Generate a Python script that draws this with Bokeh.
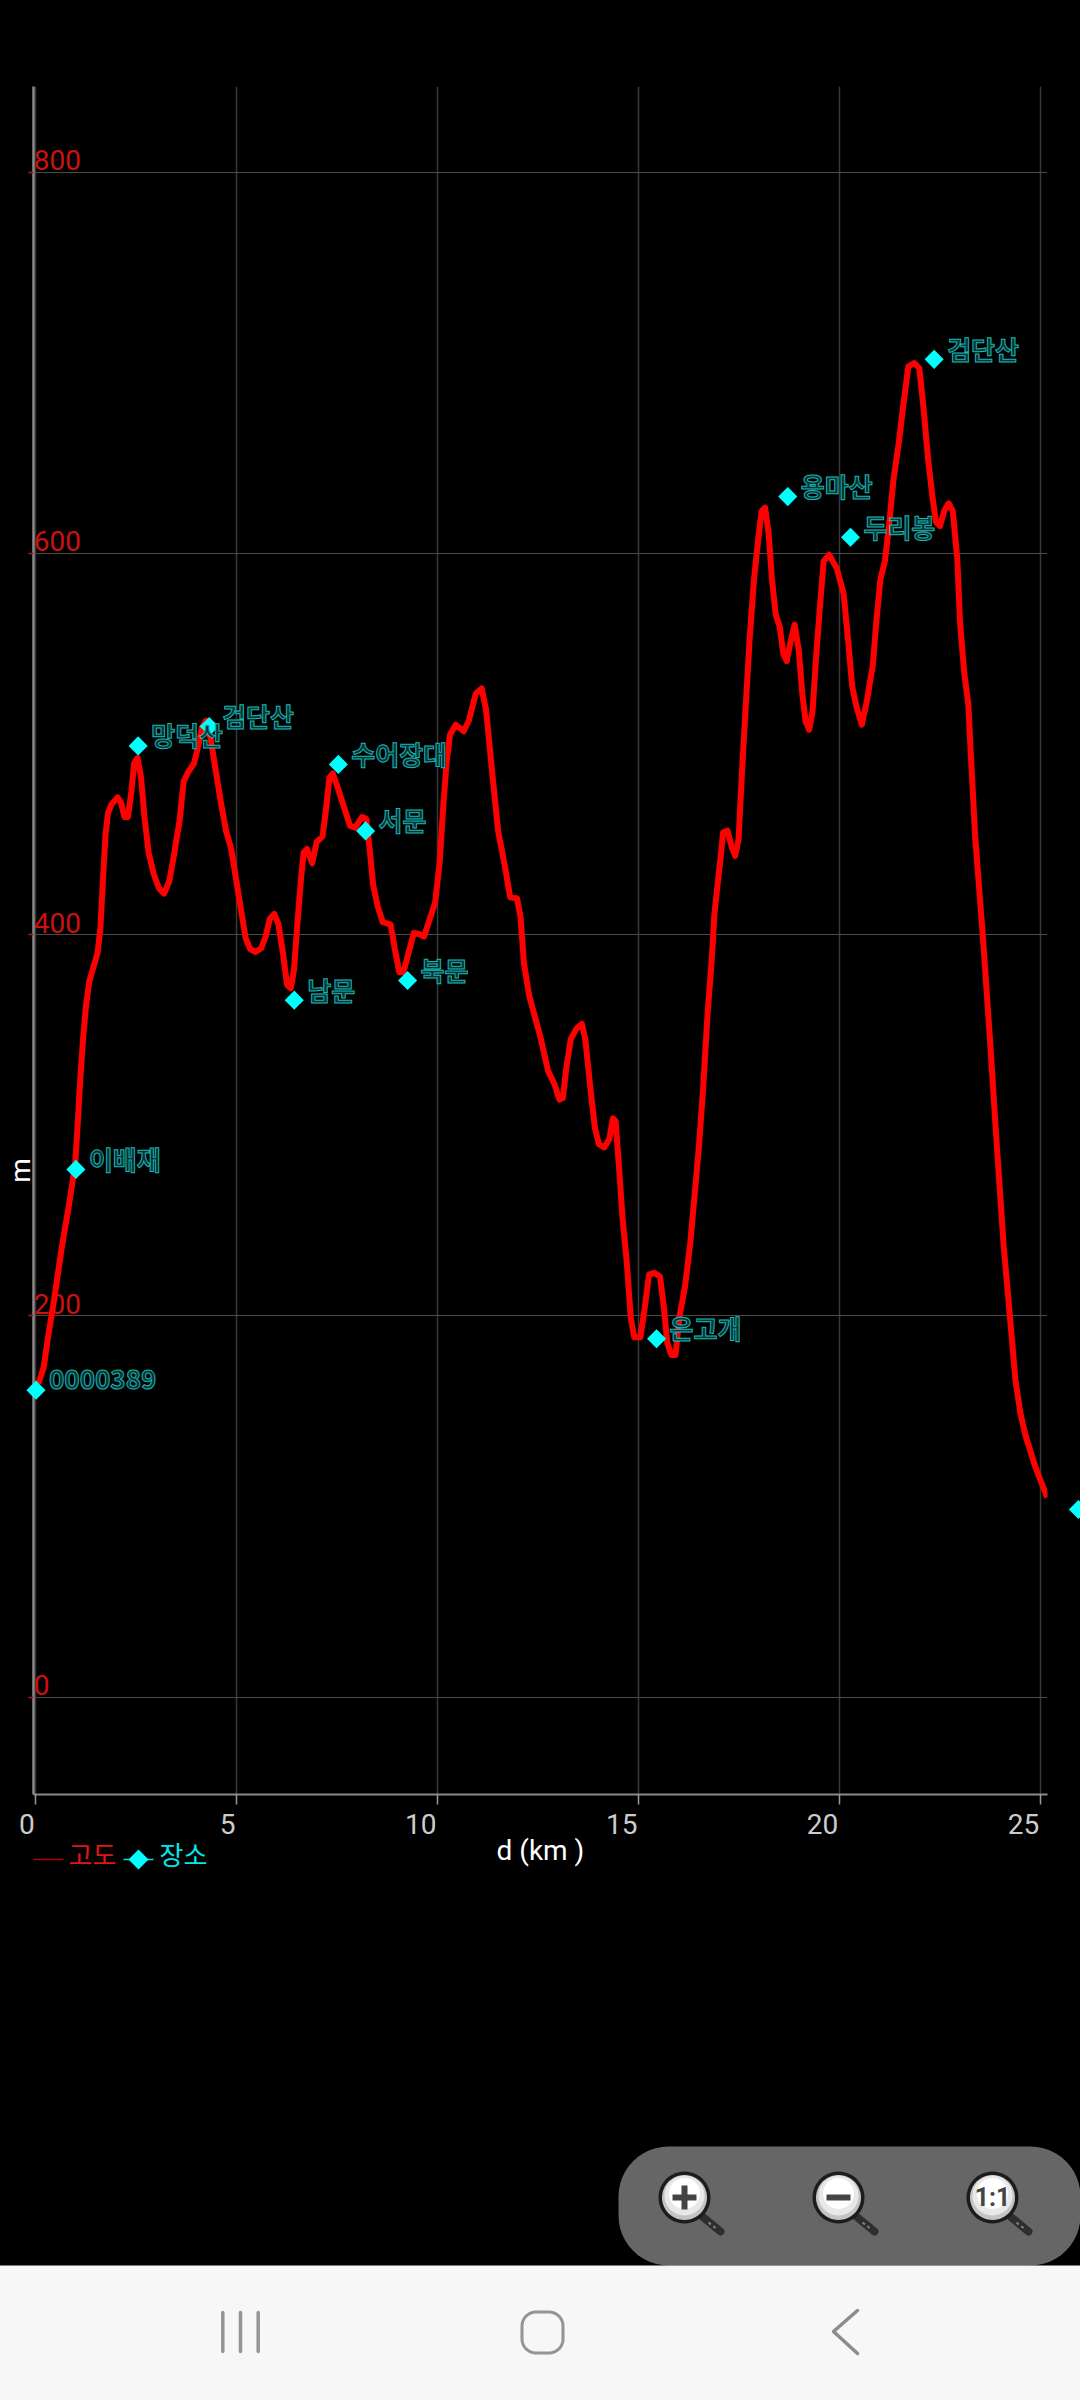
import math
from bokeh.plotting import figure
from bokeh.models import Range1d, FixedTicker, CustomLabelingPolicy
from bokeh.core.properties import value
from bokeh.embed import file_html
from bokeh.resources import INLINE

# --- chart data ---
distance_km = [0.067,0.195,0.324,0.453,0.65,0.838,0.984,1.05,1.113,1.18,1.25,1.335,1.438,1.541,1.61,1.678,1.738,1.798,1.884,2.038,2.124,2.21,2.295,2.381,2.45,2.535,2.621,2.707,2.81,2.938,3.067,3.195,3.324,3.452,3.581,3.684,3.795,3.941,4.027,4.138,4.241,4.352,4.481,4.61,4.738,4.867,4.995,5.124,5.227,5.338,5.467,5.612,5.724,5.827,5.938,6.041,6.152,6.255,6.349,6.427,6.512,6.598,6.667,6.752,6.881,6.992,7.138,7.224,7.31,7.395,7.524,7.695,7.824,7.952,8.124,8.227,8.312,8.398,8.51,8.638,8.835,8.938,9.05,9.152,9.28,9.409,9.538,9.666,9.795,9.941,10.052,10.138,10.224,10.31,10.455,10.652,10.781,10.952,11.098,11.209,11.338,11.509,11.68,11.809,11.98,12.066,12.152,12.281,12.564,12.753,12.907,13.035,13.121,13.207,13.318,13.464,13.593,13.678,13.807,13.918,14.021,14.15,14.278,14.364,14.433,14.518,14.604,14.707,14.81,14.895,15.05,15.161,15.264,15.393,15.538,15.632,15.718,15.821,15.924,16.018,16.164,16.292,16.404,16.507,16.61,16.721,16.824,16.892,16.978,17.05,17.107,17.218,17.321,17.407,17.493,17.578,17.664,17.767,17.878,17.981,18.067,18.153,18.239,18.324,18.418,18.52,18.606,18.692,18.778,18.889,18.992,19.078,19.164,19.25,19.335,19.421,19.524,19.61,19.747,19.935,20.107,20.218,20.321,20.432,20.561,20.689,20.835,20.921,21.024,21.135,21.247,21.35,21.478,21.607,21.718,21.864,21.992,22.095,22.206,22.318,22.404,22.506,22.609,22.721,22.824,22.935,23.004,23.107,23.21,23.278,23.381,23.578,23.749,23.921,24.092,24.264,24.385,24.51,24.635,24.884,25.175]
elevation_m = [164.4,172.6,191,207.8,235.9,259.3,280,302.5,325,345.6,362.4,375.6,383,390.5,403.7,430,452.4,463.6,468.3,472,469.2,461.7,461.7,474.9,489.9,492.7,482.4,461.7,443,431.8,424.3,421.5,428,443,459.9,480.5,485.2,489.9,497.3,508.6,512.3,503,486.1,469.2,454.3,444.9,428,411.2,398,392.4,390.9,392.8,399,408.3,410.8,405.5,390.5,373.7,371.8,381.2,405.5,428,443,444.9,437.4,448.6,451.4,465.5,482.4,484.6,476.7,465.5,457,456.1,461.7,460.8,444.9,426.1,414.9,406.5,405.2,392.4,380.2,380.2,390.5,400.8,400.3,399,407.4,416.8,437.4,465.5,489.9,504.8,510.1,506.7,512.3,526.4,529.2,518,489.9,454.3,435.5,419.6,419,409.3,384.9,368,346,328.4,321.8,313.4,314.3,330.2,345.2,350.8,353.1,345.2,319,298.4,289.9,288.4,292.8,303.6,302.1,277.8,251.5,229,199,188.8,188.8,204.7,221.6,222.5,220.6,204.7,185.9,179.4,179.4,199,215.9,238.4,264.6,289,319,358.3,386.4,410.8,427.7,441,453.5,454.5,446,441.3,449.8,485.4,517.2,554.7,586.6,607.2,622.2,624,610.9,586.6,567.8,561.3,547.2,543.5,552.8,562.6,549.1,526.6,511.6,507.5,517.2,545.3,573.4,595.9,599.3,592.2,579,554.7,530.3,519.1,510.1,522.8,541.6,564.1,586.6,595.9,616.5,639,657.7,680.2,698,699.9,697.1,676.5,650.3,629.6,616.5,614.3,622.2,626.3,622.2,597.8,564.1,537.8,521,492.9,451.6,397.7,345.2,289,236.5,195.3,166,148.7,137.2,120.4,104.7]

place_names = ["0000389","이배재","망덕산","검단산","남문","수어장대","서문","북문","은고개","용마산","두리봉","검단산"]
place_km = [0.007,1.0,2.55,4.318,6.435,7.532,8.21,9.255,15.452,18.718,20.278,22.361]
place_m = [161,276.8,499,509.2,365.6,489.3,454.4,375.9,188,629.8,608.5,701.8]
last_place_km = 25.95
last_place_m = 98.4

x_ticks = [0,5,10,15,20,25]
y_ticks = [0,200,400,600,800]
x_tick_labels = ["0","5","10","15","20","25"]
y_tick_labels = ["0","200","400","600","800"]
x_title = "d (km )"
y_title = "m"
legend_labels = ["고도","장소"]

# --- layout (page pixels) ---
W, H = 1080, 2400
F_L, F_R, F_T, F_B = 33, 1047, 86, 1794
X0, PX_KM = 35.2, 40.18
Y0, PX_M = 1696.5, 1.906
KR = value("Noto Sans CJK KR")
RB = value("Roboto")

p = figure(width=W, height=H, output_backend="svg", toolbar_location=None,
           x_range=Range1d((F_L-X0)/PX_KM, (F_R-X0)/PX_KM),
           y_range=Range1d((Y0-F_B)/PX_M, (Y0-F_T)/PX_M),
           min_border_left=F_L, min_border_right=W-F_R,
           min_border_top=F_T, min_border_bottom=H-F_B,
           background_fill_color=None, border_fill_color=None,
           outline_line_color=None)
p.styles = {"position": "fixed", "left": "0px", "top": "0px", "background-color": "#000000"}
p.extra_x_ranges["px"] = Range1d(F_L, F_R)
p.extra_y_ranges["px"] = Range1d(F_B, F_T)

# axes and grid: tick labels are placed by hand below, as the reference puts them off their usual spots
no_labels = CustomLabelingPolicy(code="return [];")
p.xaxis.major_label_policy = no_labels
p.yaxis.major_label_policy = no_labels
p.xaxis.ticker = FixedTicker(ticks=x_ticks)
p.yaxis.ticker = FixedTicker(ticks=y_ticks)
p.xaxis.minor_tick_line_color = None
p.yaxis.minor_tick_line_color = None
p.xaxis.axis_line_color = "#8a8a8a"
p.xaxis.axis_line_width = 2
p.yaxis.axis_line_color = "#8a8a8a"
p.yaxis.axis_line_width = 2.5
p.xaxis.major_tick_line_color = "#9a9a9a"
p.xaxis.major_tick_line_width = 1.5
p.xaxis.major_tick_out = 10
p.xaxis.major_tick_in = 0
p.yaxis.major_tick_line_color = "#c01010"
p.yaxis.major_tick_line_width = 1.5
p.yaxis.major_tick_out = 5
p.yaxis.major_tick_in = 0
p.xaxis.axis_label = x_title
p.xaxis.axis_label_text_color = "#ffffff"
p.xaxis.axis_label_text_font = "Roboto"
p.xaxis.axis_label_text_font_style = "normal"
p.xaxis.axis_label_text_font_size = "28px"
p.xaxis.axis_label_standoff = 13
p.xgrid.grid_line_color = "#383838"
p.xgrid.grid_line_width = 1.5
p.ygrid.grid_line_color = "#4a4a4a"
p.ygrid.grid_line_width = 1

def px(**kw):
    return dict(x_range_name="px", y_range_name="px", level="overlay", **kw)

def round_rect(l, r, t, b, rad):
    xs, ys = [], []
    for cx, cy, a0 in ((r-rad, t+rad, -90), (r-rad, b-rad, 0), (l+rad, b-rad, 90), (l+rad, t+rad, 180)):
        for i in range(13):
            a = math.radians(a0 + 7.5*i)
            xs.append(cx + rad*math.cos(a))
            ys.append(cy + rad*math.sin(a))
    return xs, ys

# zoom controls pill and navigation bar (phone chrome)
ax, ay = round_rect(618, 1080, 2146, 2265, 50)
p.patch(ax, ay, fill_color="#666666", line_color=None, **px())
p.patch([-10, 1090, 1090, -10], [2265, 2265, 2410, 2410], fill_color="#f7f7f7", line_color=None, **px())
ax, ay = round_rect(521.5, 562.5, 2311.5, 2352.5, 14)
p.line(ax + ax[:1], ay + ay[:1], line_color="#949494", line_width=3, **px())
p.multi_line([[222.3, 222.3], [240, 240], [257.7, 257.7]], [[2312, 2351]]*3,
             line_color="#949494", line_width=3.5, line_cap="round", **px())
p.line([857, 833, 857], [2310, 2331, 2353], line_color="#8c8c8c", line_width=3.5,
       line_cap="round", line_join="round", **px())

def disc(cx, cy, r):
    a = [2*math.pi*i/48 for i in range(48)]
    return [cx + r*math.cos(t) for t in a], [cy + r*math.sin(t) for t in a]

for cx in (684, 838, 992):
    cy = 2197
    p.line([cx+19, cx+36], [cy+20, cy+34], line_color="#2e2e2e", line_width=8, line_cap="round", **px())
    p.line([cx+24, cx+33], [cy+25, cy+32], line_color="#808080", line_width=2, line_dash="3 3", **px())
    for dyy, r, col in ((0, 26, "#1c1c1c"), (0, 22.5, "#c4c4c4"), (-2, 20, "#e8e8e8"), (-4, 15.5, "#ffffff")):
        ax, ay = disc(cx, cy+dyy, r)
        p.patch(ax, ay, fill_color=col, line_color=None, **px())
p.multi_line([[672, 696], [684, 684]], [[2197, 2197], [2185, 2209]], line_color="#444444", line_width=6, **px())
p.line([826, 850], [2197, 2197], line_color="#444444", line_width=6, **px())
p.text(x=[992], y=[2197], text=["1:1"], text_color="#444444", text_font=RB, text_font_style="bold",
       text_font_size="25px", text_align="center", text_baseline="middle", **px())

# y tick labels sit inside the plot, above their grid lines
p.text(x=[0]*len(y_ticks), y=y_ticks, text=y_tick_labels, x_offset=-2, y_offset=-12,
       text_color="#cc1111", text_font=RB, text_font_size="28px",
       text_align="left", text_baseline="middle")

# elevation line
p.line(distance_km, elevation_m, line_color="#ff0000", line_width=6, line_join="round", line_cap="butt")

# places
def diamond(cx, cy, rx, ry):
    return [cx-rx, cx, cx+rx, cx], [cy, cy-ry, cy, cy+ry]

p.scatter(place_km, place_m, marker="square", angle=math.pi/4,
          size=13.5, fill_color="#00ffff", line_color=None, level="overlay")
# the last place lies outside the plot frame, where a scatter would be culled
lx, ly = diamond(last_place_km, last_place_m, 9.5/PX_KM, 9.5/PX_M)
p.patch(lx, ly, fill_color="#00ffff", line_color=None, level="overlay")
p.text(x=place_km, y=place_m, text=place_names, x_offset=13, y_offset=-11,
       text_color="#033535", text_outline_color="#1eb4b4", text_font=KR, text_font_style="bold",
       text_font_size="26px", text_align="left", text_baseline="middle", level="overlay")

# x tick labels: right-aligned to their ticks
p.text(x=x_ticks, y=[1823]*len(x_ticks), y_range_name="px", text=x_tick_labels, x_offset=-1,
       text_color="#cccccc", text_font=RB, text_font_size="28px",
       text_align="right", text_baseline="middle", level="overlay")

# y title
p.text(x=[20], y=[1170], x_range_name="px", y_range_name="px", text=[y_title], angle=math.pi/2,
       text_color="#ffffff", text_font=RB, text_font_size="28px",
       text_align="center", text_baseline="middle", level="overlay")

# legend row
p.line([33, 63], [1859, 1859], line_color="#aa0000", line_width=1.5, **px())
p.text(x=[68], y=[1853], text=[legend_labels[0]], text_color="#e01515", text_font=KR,
       text_font_size="26px", text_align="left", text_baseline="middle", **px())
p.line([123, 153], [1859, 1859], line_color="#00e0e0", line_width=1.5, **px())
dx, dy = diamond(138, 1859, 10, 10)
p.patch(dx, dy, fill_color="#00ffff", line_color=None, **px())
p.text(x=[159], y=[1853], text=[legend_labels[1]], text_color="#00e8e8", text_font=KR,
       text_font_size="26px", text_align="left", text_baseline="middle", **px())

open("out.html", "w").write(file_html(p, INLINE))
